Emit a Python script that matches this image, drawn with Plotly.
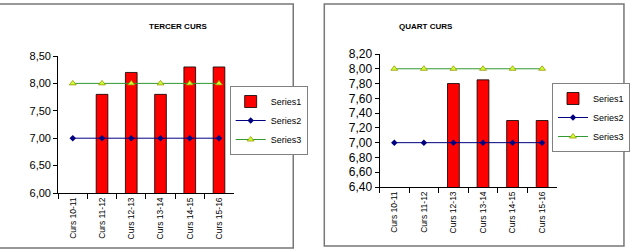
import plotly.graph_objects as go

W, H = 630, 251
categories = ["Curs 10-11", "Curs 11-12", "Curs 12-13", "Curs 13-14", "Curs 14-15", "Curs 15-16"]

left_title = "TERCER CURS"
left_s1 = [None, 7.8, 8.2, 7.8, 8.3, 8.3]
left_s2 = [7.0, 7.0, 7.0, 7.0, 7.0, 7.0]
left_s3 = [8.0, 8.0, 8.0, 8.0, 8.0, 8.0]
left_ticks = [6.0, 6.5, 7.0, 7.5, 8.0, 8.5]

right_title = "QUART CURS"
right_s1 = [None, None, 7.8, 7.85, 7.3, 7.3]
right_s2 = [7.0, 7.0, 7.0, 7.0, 7.0, 7.0]
right_s3 = [8.0, 8.0, 8.0, 8.0, 8.0, 8.0]
right_ticks = [6.4, 6.6, 6.8, 7.0, 7.2, 7.4, 7.6, 7.8, 8.0, 8.2]

def px(x):
    return x / W

def py(y):
    return 1 - y / H

RED = "#FF0000"
NAVY = "#000080"
GREEN = "#339933"
YEL = "#CCFF33"

fig = go.Figure()

def add_set(s1, s2, s3, xa, ya, leg):
    fig.add_trace(go.Bar(x=categories, y=s1, name="Series1", xaxis=xa, yaxis=ya,
                         marker=dict(color=RED, line=dict(color="#000000", width=0.8)),
                         width=0.4, legend=leg))
    fig.add_trace(go.Scatter(x=categories, y=s2, name="Series2", xaxis=xa, yaxis=ya,
                             mode="lines+markers", line=dict(color=NAVY, width=1),
                             marker=dict(symbol="diamond", size=5, color=NAVY), legend=leg))
    fig.add_trace(go.Scatter(x=categories, y=s3, name="Series3", xaxis=xa, yaxis=ya,
                             mode="lines+markers", line=dict(color=GREEN, width=1),
                             marker=dict(symbol="triangle-up", size=6, color=YEL,
                                         line=dict(color="#999900", width=0.8)), legend=leg))

add_set(left_s1, left_s2, left_s3, "x", "y", "legend")
add_set(right_s1, right_s2, right_s3, "x2", "y2", "legend2")

tickfont_x = dict(family="Liberation Sans, Arial", size=8.5, color="#000000")

axis_common = dict(showgrid=False, showline=True, linecolor="#000000", linewidth=1,
                   zeroline=False, fixedrange=True, automargin=False)

legend_common = dict(xanchor="left", yanchor="top",
                     bgcolor="#FFFFFF", bordercolor="#808080", borderwidth=1,
                     font=dict(family="Liberation Sans, Arial", size=9, color="#000000"),
                     tracegroupgap=0, itemwidth=30, itemsizing="trace")

fig.update_layout(
    width=W, height=H,
    margin=dict(l=0, r=0, t=0, b=0),
    paper_bgcolor="#FFFFFF", plot_bgcolor="#FFFFFF",
    showlegend=True,
    xaxis=dict(domain=[px(59), px(237)], anchor="y", type="category",
               tickangle=-90, tickfont=tickfont_x, ticks="outside", ticklen=5,
               tickson="boundaries", tickcolor="#000000", **axis_common),
    yaxis=dict(domain=[py(193), py(56)], anchor="x", range=[6.0, 8.5],
               tickvals=left_ticks, tickformat=".2f", ticks="outside", ticklen=4,
               tickcolor="#000000",
               tickfont=dict(family="Liberation Sans, Arial", size=11, color="#000000"),
               **axis_common),
    xaxis2=dict(domain=[px(385), px(565)], anchor="y2", type="category",
                tickangle=-90, tickfont=tickfont_x, ticks="outside", ticklen=5,
                tickson="boundaries", tickcolor="#000000", **axis_common),
    yaxis2=dict(domain=[py(187), py(54)], anchor="x2", range=[6.4, 8.2],
                tickvals=right_ticks, tickformat=".2f", ticks="outside", ticklen=4,
                tickcolor="#000000",
                tickfont=dict(family="Liberation Sans, Arial", size=12, color="#000000"),
                **axis_common),
    separators=",.",
    legend=dict(x=px(233), y=py(86), **legend_common),
    legend2=dict(x=px(560), y=py(83), **legend_common),
    annotations=[
        dict(text="<b>" + left_title + "</b>", x=px(149), y=py(20), xref="paper", yref="paper",
             showarrow=False, font=dict(family="Liberation Sans, Arial", size=8, color="#000000")),
        dict(text="<b>" + right_title + "</b>", x=px(462), y=py(20), xref="paper", yref="paper",
             showarrow=False, font=dict(family="Liberation Sans, Arial", size=8, color="#000000")),
    ],
    shapes=[
        dict(type="rect", xref="paper", yref="paper", x0=px(-2), x1=px(297.5), y0=py(248), y1=py(4),
             line=dict(color="#777777", width=1.5), layer="above"),
        dict(type="rect", xref="paper", yref="paper", x0=px(329), x1=px(633), y0=py(246), y1=py(4),
             line=dict(color="#777777", width=1.5), layer="above"),
    ],
)

fig.write_html("out.html")
